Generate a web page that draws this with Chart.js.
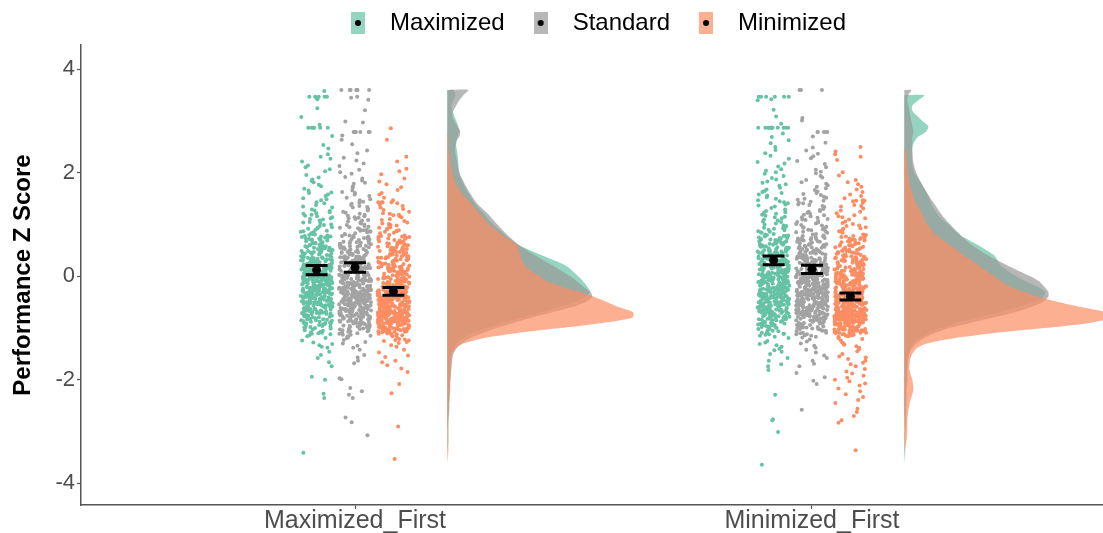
<!DOCTYPE html>
<html>
<head>
<meta charset="utf-8">
<title>Performance Z Score by order and condition</title>
<script src="https://cdn.jsdelivr.net/npm/chart.js@4.4.1/dist/chart.umd.min.js"></script>
<style>
  html, body { margin: 0; padding: 0; background: #ffffff; }
  #wrap { width: 1103px; height: 533px; position: relative; }
</style>
</head>
<body>
<div id="wrap"><canvas id="chart"></canvas></div>
<script>
// ---- categories and labels ----
const orders = ['Maximized_First', 'Minimized_First'];
const conditions = ['Maximized', 'Standard', 'Minimized'];
const yTicks = [-4, -2, 0, 2, 4];

// ---- individual z scores, Maximized_First order ----
const maxFirstMaximized = [3.58,3.47,3.47,3.47,3.47,3.47,3.44,3.42,3.25,3.08,2.93,2.87,2.87,2.87,2.87,2.87,2.87,2.71,2.54,2.47,2.36,2.22,2.31,2.27,2.14,2.03,2.11,2.07,1.96,1.84,1.91,1.87,1.82,1.77,1.69,1.74,1.62,1.66,1.61,1.55,1.58,1.47,1.51,1.43,1.49,1.41,
  1.21,1.27,1.33,1.24,1.38,1.29,1.22,1.35,1.26,1.11,1.19,1.03,1.08,1.16,1.05,1.12,1.0,1.17,1.1,1.04,1.14,
  0.93,0.85,0.97,0.81,0.9,0.86,0.99,0.83,0.92,0.88,0.95,0.8,0.87,0.94,0.82,
  0.66,0.75,0.62,0.7,0.78,0.64,0.73,0.68,0.6,0.77,0.71,0.63,0.74,0.69,0.79,0.65,0.72,0.61,0.76,
  0.43,0.51,0.56,0.4,0.48,0.54,0.45,0.59,0.5,0.42,0.53,0.47,0.57,0.44,0.52,0.49,0.41,0.55,0.46,0.58,0.51,0.43,0.54,0.48,
  0.21,0.27,0.33,0.24,0.38,0.29,0.22,0.35,0.26,0.31,0.39,0.23,0.28,0.36,0.25,0.32,0.2,0.37,0.3,0.24,0.34,0.27,0.21,0.38,0.29,0.33,0.26,0.36,0.22,0.31,0.28,
  0.03,0.11,0.16,0.0,0.08,0.14,0.05,0.19,0.1,0.02,0.13,0.07,0.17,0.04,0.12,0.09,0.01,0.15,0.06,0.18,0.11,0.03,0.14,0.08,0.0,0.16,0.1,0.05,0.19,0.12,0.02,0.07,0.17,0.13,0.04,0.09,0.15,
  -0.06,-0.15,-0.02,-0.1,-0.18,-0.04,-0.13,-0.08,-0.01,-0.17,-0.11,-0.03,-0.14,-0.09,-0.19,-0.05,-0.12,-0.01,-0.16,-0.07,-0.1,-0.03,-0.18,-0.13,-0.06,-0.02,-0.15,-0.08,-0.12,-0.04,-0.17,-0.02,-0.11,-0.19,-0.09,-0.05,-0.14,-0.01,-0.16,
  -0.21,-0.27,-0.33,-0.24,-0.38,-0.29,-0.22,-0.35,-0.26,-0.31,-0.39,-0.23,-0.28,-0.36,-0.25,-0.32,-0.2,-0.37,-0.3,-0.24,-0.34,-0.27,-0.21,-0.38,-0.29,-0.33,-0.26,-0.36,-0.22,-0.31,-0.28,-0.39,-0.25,-0.35,-0.23,-0.3,-0.37,-0.27,-0.32,-0.24,-0.34,
  -0.43,-0.51,-0.56,-0.4,-0.48,-0.54,-0.45,-0.59,-0.5,-0.42,-0.53,-0.47,-0.57,-0.44,-0.52,-0.49,-0.41,-0.55,-0.46,-0.58,-0.51,-0.43,-0.54,-0.48,-0.4,-0.56,-0.5,-0.45,-0.59,-0.52,-0.42,-0.47,-0.57,-0.53,-0.44,-0.49,-0.55,
  -0.66,-0.75,-0.62,-0.7,-0.78,-0.64,-0.73,-0.68,-0.6,-0.77,-0.71,-0.63,-0.74,-0.69,-0.79,-0.65,-0.72,-0.61,-0.76,-0.67,-0.7,-0.63,-0.78,-0.73,-0.66,-0.62,-0.75,
  -0.81,-0.87,-0.93,-0.84,-0.98,-0.89,-0.82,-0.95,-0.86,-0.91,-0.99,-0.83,-0.88,-0.96,-0.85,-0.92,-0.9,
  -1.03,-1.11,-1.16,-1.0,-1.08,-1.14,-1.05,-1.19,-1.1,
  -1.24,-1.28,-1.31,-1.33,-1.36,-1.38,-1.46,-1.52,-1.58,-1.66,-1.74,-1.94,-2.0,-2.27,-2.35,-3.41,
  0.77,0.71,0.64,0.58,0.52,0.47,0.69,0.44,0.61,0.55,0.49,0.73,
  0.37,0.31,0.24,0.18,0.12,0.06,0.35,0.28,0.21,0.15,0.09,0.03,0.39,0.33,0.26,0.19,0.13,0.07,0.01,0.29,0.23,0.16,0.1,0.04,
  -0.02,-0.08,-0.15,-0.21,-0.27,-0.34,-0.05,-0.11,-0.18,-0.24,-0.31,-0.37,-0.03,-0.09,-0.16,-0.22,-0.29,-0.35,-0.06,-0.13,-0.19,-0.26,-0.32,-0.38,-0.01,-0.12,-0.23,-0.33,-0.07,-0.17,-0.28,-0.36,
  -0.41,-0.47,-0.53,-0.6,-0.66,-0.72,-0.44,-0.5,-0.57,-0.63,-0.69,-0.76,-0.42,-0.48,-0.55,-0.61,-0.67,-0.74,-0.45,-0.52,-0.58,-0.65,-0.71,-0.79,-0.43,-0.51,-0.59,-0.68,
  -0.82,-0.88,-0.94,-1.01,-1.07,-0.85,-0.91,-0.97,-1.04,-1.12,-0.83,-0.9,-0.99,-1.09];

const maxFirstStandard = [3.6,3.6,3.6,3.6,3.6,3.6,3.6,3.6,3.47,3.45,3.41,3.21,2.99,2.97,2.79,2.79,2.79,2.79,2.79,2.79,2.79,2.72,2.64,2.55,2.43,2.38,2.29,2.24,2.18,2.13,2.06,2.01,1.98,1.92,1.89,1.85,1.81,1.79,1.74,1.71,1.66,1.63,1.61,1.58,1.55,1.52,1.49,1.47,1.44,1.42,1.4,
  1.33,1.25,1.38,1.21,1.29,1.36,1.23,1.31,1.27,1.34,
  1.14,1.06,1.19,1.02,1.11,1.17,1.08,1.0,1.13,1.04,1.16,1.09,1.12,
  0.96,0.88,0.82,0.93,0.85,0.99,0.9,0.81,0.94,0.87,0.97,0.83,0.91,0.86,0.95,0.89,
  0.74,0.67,0.61,0.78,0.7,0.63,0.76,0.65,0.72,0.6,0.79,0.68,0.73,0.62,0.77,0.66,0.71,0.64,0.75,
  0.55,0.47,0.41,0.58,0.5,0.43,0.56,0.45,0.52,0.4,0.59,0.48,0.53,0.42,0.57,0.46,0.51,0.44,0.54,0.49,0.42,0.56,0.47,
  0.36,0.28,0.22,0.33,0.25,0.39,0.3,0.21,0.34,0.27,0.37,0.23,0.31,0.26,0.35,0.29,0.2,0.38,0.24,0.32,0.27,0.36,0.22,0.3,0.34,0.25,0.38,0.28,
  0.16,0.08,0.02,0.13,0.05,0.19,0.1,0.01,0.14,0.07,0.17,0.03,0.11,0.06,0.15,0.09,0.0,0.18,0.04,0.12,0.07,0.16,0.02,0.1,0.14,0.05,0.18,0.08,0.12,0.03,0.17,0.11,0.06,0.13,
  -0.03,-0.11,-0.16,-0.01,-0.08,-0.14,-0.05,-0.19,-0.1,-0.02,-0.13,-0.07,-0.17,-0.04,-0.12,-0.09,-0.01,-0.15,-0.06,-0.18,-0.11,-0.03,-0.14,-0.08,-0.02,-0.16,-0.1,-0.05,-0.19,-0.12,-0.02,-0.07,-0.17,-0.13,-0.04,-0.09,-0.15,-0.06,
  -0.26,-0.35,-0.22,-0.3,-0.38,-0.24,-0.33,-0.28,-0.2,-0.37,-0.31,-0.23,-0.34,-0.29,-0.39,-0.25,-0.32,-0.21,-0.36,-0.27,-0.3,-0.23,-0.38,-0.33,-0.26,-0.22,-0.35,-0.28,-0.32,-0.24,-0.37,-0.22,-0.31,-0.39,-0.29,-0.25,-0.34,-0.21,-0.36,-0.27,-0.33,
  -0.41,-0.47,-0.53,-0.44,-0.58,-0.49,-0.42,-0.55,-0.46,-0.51,-0.59,-0.43,-0.48,-0.56,-0.45,-0.52,-0.4,-0.57,-0.5,-0.44,-0.54,-0.47,-0.41,-0.58,-0.49,-0.53,-0.46,-0.56,-0.42,-0.51,-0.48,-0.59,-0.45,-0.55,-0.43,-0.5,-0.57,-0.47,-0.52,-0.44,-0.54,
  -0.63,-0.71,-0.76,-0.6,-0.68,-0.74,-0.65,-0.79,-0.7,-0.62,-0.73,-0.67,-0.77,-0.64,-0.72,-0.69,-0.61,-0.75,-0.66,-0.78,-0.71,-0.63,-0.74,-0.68,-0.6,-0.76,-0.7,-0.65,-0.79,-0.72,-0.62,-0.67,-0.77,
  -0.86,-0.95,-0.82,-0.9,-0.98,-0.84,-0.93,-0.88,-0.8,-0.97,-0.91,-0.83,-0.94,-0.89,-0.99,-0.85,-0.92,-0.81,-0.96,-0.87,-0.9,-0.83,
  -1.01,-1.07,-1.13,-1.04,-1.18,-1.09,-1.02,-1.15,-1.06,-1.11,-1.19,-1.03,
  -1.23,-1.27,-1.3,-1.34,-1.38,-1.42,-1.52,-1.57,-1.63,-1.68,-1.97,-1.99,-2.16,-2.22,-2.29,-2.35,-2.73,-2.82,-3.07,
  0.78,0.72,0.65,0.59,0.53,0.46,0.41,0.68,0.62,0.56,0.5,0.43,
  0.38,0.32,0.25,0.19,0.13,0.07,0.01,0.35,0.29,0.22,0.16,0.1,0.04,0.37,0.31,0.24,0.18,0.12,0.06,0.27,0.14,0.02,
  -0.03,-0.09,-0.16,-0.22,-0.28,-0.35,-0.06,-0.12,-0.19,-0.25,-0.31,-0.38,-0.02,-0.08,-0.14,-0.21,-0.27,-0.33,-0.39,-0.05,-0.11,-0.17,-0.24,-0.3,-0.36,-0.01,-0.13,-0.26,-0.37,-0.07,-0.2,-0.32,
  -0.42,-0.48,-0.54,-0.61,-0.67,-0.73,-0.79,-0.45,-0.51,-0.57,-0.64,-0.7,-0.76,-0.43,-0.49,-0.55,-0.62,-0.68,-0.74,-0.41,-0.47,-0.53,-0.59,-0.66,-0.72,-0.78,-0.44,-0.5,-0.56,-0.63,-0.69,-0.75,
  -0.81,-0.87,-0.93,-0.99,-1.06,-1.13,-0.84,-0.9,-0.96,-1.02,-1.1,-0.82,-0.88,-0.95,-1.04,-1.16];

const maxFirstMinimized = [2.86,2.64,2.31,2.22,2.08,2.03,1.97,1.89,1.83,1.78,1.72,1.67,1.61,1.58,1.52,1.47,1.43,1.43,1.43,1.43,1.41,
  1.36,1.28,1.22,1.33,1.25,1.39,1.3,1.21,
  1.14,1.07,1.18,1.02,1.11,1.16,1.04,1.09,1.19,1.01,
  0.97,0.89,0.83,0.94,0.86,0.99,0.91,0.8,0.95,0.88,0.92,0.84,0.98,0.87,
  0.72,0.65,0.78,0.61,0.7,0.76,0.63,0.68,0.74,0.6,0.79,0.67,0.73,0.62,0.77,0.66,0.71,0.64,
  0.54,0.46,0.59,0.41,0.5,0.56,0.43,0.48,0.57,0.44,0.52,0.4,0.58,0.47,0.53,0.42,0.55,0.49,0.45,0.51,0.56,
  0.33,0.26,0.38,0.21,0.3,0.36,0.23,0.28,0.37,0.24,0.32,0.2,0.39,0.27,0.34,0.22,0.35,0.29,0.25,0.31,0.36,0.23,
  0.14,0.06,0.19,0.01,0.1,0.16,0.03,0.08,0.17,0.04,0.12,0.0,0.18,0.07,0.13,0.02,0.15,0.09,0.05,0.11,0.16,0.03,0.19,0.08,0.12,
  -0.04,-0.12,-0.17,-0.01,-0.09,-0.15,-0.06,-0.19,-0.11,-0.03,-0.14,-0.08,-0.18,-0.05,-0.13,-0.1,-0.02,-0.16,-0.07,-0.19,-0.12,-0.04,-0.15,-0.09,-0.01,-0.17,-0.11,-0.06,-0.13,-0.03,-0.08,
  -0.23,-0.31,-0.36,-0.2,-0.28,-0.34,-0.25,-0.39,-0.3,-0.22,-0.33,-0.27,-0.37,-0.24,-0.32,-0.29,-0.21,-0.35,-0.26,-0.38,-0.31,-0.23,-0.34,-0.28,-0.2,-0.36,-0.3,-0.25,-0.39,-0.32,-0.22,-0.27,-0.37,-0.33,-0.24,-0.29,-0.35,-0.21,-0.38,-0.26,
  -0.42,-0.49,-0.55,-0.46,-0.59,-0.51,-0.43,-0.57,-0.48,-0.53,-0.4,-0.45,-0.5,-0.58,-0.47,-0.54,-0.41,-0.56,-0.52,-0.44,-0.58,-0.49,-0.43,-0.55,-0.5,-0.46,-0.59,-0.53,-0.41,-0.48,-0.56,-0.45,-0.51,-0.42,-0.57,-0.47,-0.54,-0.44,-0.52,-0.5,-0.58,-0.46,-0.55,-0.43,-0.49,-0.53,-0.47,-0.56,
  -0.61,-0.68,-0.74,-0.65,-0.79,-0.7,-0.63,-0.76,-0.67,-0.72,-0.6,-0.64,-0.69,-0.77,-0.66,-0.73,-0.62,-0.75,-0.71,-0.78,-0.65,-0.7,-0.74,-0.61,-0.68,-0.76,-0.63,-0.72,-0.79,-0.67,-0.73,-0.64,-0.77,-0.69,-0.75,-0.62,-0.71,-0.78,-0.66,-0.74,-0.7,-0.76,-0.72,-0.68,-0.75,-0.73,-0.77,-0.71,-0.74,-0.69,-0.76,-0.72,-0.75,
  -0.81,-0.86,-0.92,-0.83,-0.97,-0.88,-0.8,-0.94,-0.85,-0.9,-0.82,-0.87,-0.93,-0.84,-0.89,-0.96,-0.81,-0.91,-0.85,-0.88,-0.83,-0.95,-0.8,-0.86,-0.92,-0.82,-0.87,-0.9,-0.84,-0.99,-0.81,-0.89,-0.93,-0.83,-0.86,-0.91,-0.8,-0.85,-0.94,-0.82,-0.88,-0.98,-0.84,-0.9,-0.87,
  -1.02,-1.07,-1.01,-1.12,-1.05,-1.09,-1.03,-1.16,-1.06,-1.01,-1.11,-1.04,-1.08,-1.19,-1.02,-1.13,-1.05,-1.1,-1.03,-1.15,-1.07,
  -1.21,-1.24,-1.27,-1.22,-1.29,-1.25,-1.23,
  -1.33,-1.36,-1.42,-1.47,-1.53,-1.56,-1.63,-1.66,-1.72,-1.78,-1.85,-2.08,-2.26,-2.9,-3.53,
  0.76,0.69,0.61,0.54,0.47,0.42,0.65,0.51,
  0.37,0.3,0.22,0.15,0.08,0.02,0.34,0.26,0.19,0.11,0.05,0.39,0.24,0.13,
  -0.03,-0.1,-0.17,-0.24,-0.31,-0.38,-0.06,-0.13,-0.2,-0.27,-0.34,-0.01,-0.08,-0.15,-0.22,-0.29,-0.36,-0.05,-0.12,-0.19,-0.26,-0.33,-0.39,-0.21,
  -0.41,-0.46,-0.51,-0.56,-0.61,-0.66,-0.71,-0.76,-0.43,-0.48,-0.53,-0.58,-0.63,-0.68,-0.73,-0.78,-0.44,-0.49,-0.54,-0.59,-0.64,-0.69,-0.74,-0.79,-0.42,-0.47,-0.52,-0.57,-0.62,-0.67,-0.72,-0.77,-0.65,-0.7,-0.75,-0.73,-0.68,-0.76,-0.71,-0.74,
  -0.81,-0.84,-0.87,-0.9,-0.93,-0.96,-0.99,-1.02,-1.05,-1.08,-1.11,-0.82,-0.85,-0.88,-0.91,-0.94,-0.97,-1.0,-1.03,-1.06,-0.83,-0.86,-0.89,-0.92,-0.95,-0.98,-1.01,-1.04,-0.8,-1.14];

// ---- individual z scores, Minimized_First order ----
const minFirstMaximized = [3.47,3.47,3.47,3.47,3.47,3.47,3.42,3.4,3.22,3.09,2.95,2.87,2.87,2.87,2.87,2.87,2.87,2.87,2.87,2.87,2.87,2.87,2.87,2.76,2.69,2.63,2.57,2.5,2.44,2.38,2.33,2.27,2.21,2.18,2.12,2.07,2.04,2.01,1.98,1.94,1.9,1.87,1.83,1.81,1.78,1.75,1.71,1.68,1.65,1.63,1.61,1.58,1.56,1.53,1.5,1.47,1.45,1.43,1.41,
  1.32,1.24,1.37,1.21,1.29,1.35,1.26,1.39,1.23,
  1.15,1.08,1.19,1.02,1.12,1.05,1.17,1.0,1.1,1.14,1.06,
  0.95,0.87,0.81,0.92,0.84,0.98,0.89,0.8,0.93,0.86,0.97,0.82,0.9,0.85,0.94,
  0.75,0.67,0.61,0.72,0.64,0.78,0.69,0.6,0.73,0.66,0.77,0.62,0.7,0.65,0.74,0.68,0.79,0.63,0.71,
  0.55,0.47,0.41,0.52,0.44,0.58,0.49,0.4,0.53,0.46,0.57,0.42,0.5,0.45,0.54,0.48,0.59,0.43,0.51,0.56,0.46,0.52,0.41,0.48,
  0.35,0.27,0.21,0.32,0.24,0.38,0.29,0.2,0.33,0.26,0.37,0.22,0.3,0.25,0.34,0.28,0.39,0.23,0.31,0.36,0.26,0.32,0.21,0.28,0.35,0.24,0.3,
  0.15,0.07,0.01,0.12,0.04,0.18,0.09,0.0,0.13,0.06,0.17,0.02,0.1,0.05,0.14,0.08,0.19,0.03,0.11,0.16,0.06,0.12,0.01,0.08,0.15,0.04,0.1,0.18,0.02,0.13,
  -0.05,-0.13,-0.18,-0.02,-0.1,-0.16,-0.07,-0.01,-0.12,-0.04,-0.15,-0.09,-0.19,-0.06,-0.14,-0.11,-0.03,-0.17,-0.08,-0.12,-0.05,-0.16,-0.1,-0.02,-0.18,-0.13,-0.07,-0.14,-0.04,-0.09,-0.19,-0.11,-0.06,-0.15,-0.03,-0.17,-0.08,
  -0.24,-0.32,-0.37,-0.21,-0.29,-0.35,-0.26,-0.2,-0.31,-0.23,-0.34,-0.28,-0.38,-0.25,-0.33,-0.3,-0.22,-0.36,-0.27,-0.39,-0.32,-0.24,-0.35,-0.29,-0.21,-0.37,-0.31,-0.26,-0.33,-0.23,-0.28,-0.38,-0.34,-0.25,-0.3,-0.36,-0.22,-0.39,-0.27,-0.33,-0.29,
  -0.44,-0.52,-0.57,-0.41,-0.49,-0.55,-0.46,-0.4,-0.51,-0.43,-0.54,-0.48,-0.58,-0.45,-0.53,-0.5,-0.42,-0.56,-0.47,-0.59,-0.52,-0.44,-0.55,-0.49,-0.41,-0.57,-0.51,-0.46,-0.53,-0.43,-0.48,-0.58,-0.54,-0.45,-0.5,-0.56,-0.42,-0.47,-0.53,
  -0.64,-0.72,-0.77,-0.61,-0.69,-0.75,-0.66,-0.6,-0.71,-0.63,-0.74,-0.68,-0.78,-0.65,-0.73,-0.7,-0.62,-0.76,-0.67,-0.79,-0.72,-0.64,-0.75,-0.69,-0.61,-0.77,-0.71,-0.66,-0.73,-0.63,
  -0.84,-0.92,-0.97,-0.81,-0.89,-0.95,-0.86,-0.8,-0.91,-0.83,-0.94,-0.88,-0.98,-0.85,-0.93,-0.9,-0.82,-0.96,
  -1.04,-1.12,-1.17,-1.01,-1.09,-1.15,-1.06,-1.02,-1.11,-1.19,
  -1.25,-1.28,-1.31,-1.33,-1.36,-1.4,-1.43,-1.46,-1.5,-1.58,-1.63,-1.7,-1.74,-1.81,-2.29,-2.76,-2.78,-3.01,-3.64,
  0.78,0.71,0.65,0.58,0.52,0.45,0.74,0.68,0.61,0.55,0.48,0.42,0.63,
  0.38,0.31,0.25,0.18,0.12,0.05,0.35,0.28,0.22,0.15,0.09,0.02,0.37,0.3,0.24,0.17,0.11,0.04,0.33,0.2,0.07,0.26,
  -0.02,-0.09,-0.15,-0.22,-0.28,-0.35,-0.05,-0.12,-0.18,-0.25,-0.31,-0.38,-0.03,-0.1,-0.17,-0.23,-0.3,-0.36,-0.07,-0.14,-0.2,-0.27,-0.33,-0.39,-0.01,-0.13,-0.24,-0.34,-0.08,-0.29,
  -0.41,-0.47,-0.54,-0.6,-0.67,-0.73,-0.44,-0.5,-0.57,-0.63,-0.7,-0.77,-0.42,-0.49,-0.55,-0.62,-0.68,-0.75,-0.46,-0.52,-0.59,-0.65,-0.72,-0.79,-0.43,-0.51,-0.61,-0.69,
  -0.82,-0.88,-0.95,-1.02,-1.08,-0.85,-0.91,-0.98,-1.05,-1.13,-0.83,-0.9,-1.0,-1.11];

const minFirstStandard = [3.6,3.6,3.6,3.06,3.01,2.79,2.79,2.79,2.79,2.79,2.7,2.58,2.49,2.43,2.37,2.32,2.28,2.23,2.17,2.11,2.06,2.02,1.99,1.94,1.91,1.86,1.82,1.79,1.76,1.73,1.7,1.67,1.64,1.61,1.59,1.57,1.54,1.52,1.5,1.48,1.46,1.44,1.42,1.41,
  1.34,1.26,1.39,1.21,1.3,1.36,1.23,1.28,1.38,1.25,
  1.16,1.09,1.02,1.13,1.05,1.19,1.1,1.01,1.14,1.07,1.18,1.04,1.11,
  0.96,0.89,0.82,0.93,0.85,0.99,0.9,0.81,0.94,0.87,0.98,0.84,0.91,0.86,0.95,
  0.76,0.69,0.62,0.73,0.65,0.79,0.7,0.61,0.74,0.67,0.78,0.64,0.71,0.66,0.75,0.68,0.6,0.72,
  0.56,0.49,0.42,0.53,0.45,0.59,0.5,0.41,0.54,0.47,0.58,0.44,0.51,0.46,0.55,0.48,0.4,0.52,0.57,0.43,0.5,0.47,
  0.36,0.29,0.22,0.33,0.25,0.39,0.3,0.21,0.34,0.27,0.38,0.24,0.31,0.26,0.35,0.28,0.2,0.32,0.37,0.23,0.3,0.27,0.34,0.22,0.36,0.25,0.32,
  0.16,0.09,0.02,0.13,0.05,0.19,0.1,0.01,0.14,0.07,0.18,0.04,0.11,0.06,0.15,0.08,0.0,0.12,0.17,0.03,0.1,0.07,0.14,0.02,0.16,0.05,0.12,0.19,0.08,0.03,0.15,0.11,0.06,0.13,
  -0.03,-0.1,-0.17,-0.06,-0.14,-0.01,-0.09,-0.18,-0.05,-0.12,-0.02,-0.15,-0.08,-0.19,-0.04,-0.11,-0.16,-0.07,-0.13,-0.02,-0.1,-0.17,-0.05,-0.14,-0.08,-0.01,-0.12,-0.19,-0.06,-0.15,-0.03,-0.11,-0.18,-0.07,-0.13,-0.04,-0.16,-0.09,-0.12,
  -0.23,-0.3,-0.37,-0.26,-0.34,-0.21,-0.29,-0.38,-0.25,-0.32,-0.22,-0.35,-0.28,-0.39,-0.24,-0.31,-0.36,-0.27,-0.33,-0.22,-0.3,-0.37,-0.25,-0.34,-0.28,-0.21,-0.32,-0.39,-0.26,-0.35,-0.23,-0.31,-0.38,-0.27,-0.33,-0.24,-0.36,-0.29,-0.2,-0.34,-0.27,-0.31,
  -0.43,-0.5,-0.57,-0.46,-0.54,-0.41,-0.49,-0.58,-0.45,-0.52,-0.42,-0.55,-0.48,-0.59,-0.44,-0.51,-0.56,-0.47,-0.53,-0.42,-0.5,-0.57,-0.45,-0.54,-0.48,-0.41,-0.52,-0.59,-0.46,-0.55,-0.43,-0.51,-0.58,-0.47,-0.53,-0.44,-0.56,-0.49,-0.4,-0.54,-0.47,
  -0.63,-0.7,-0.77,-0.66,-0.74,-0.61,-0.69,-0.78,-0.65,-0.72,-0.62,-0.75,-0.68,-0.79,-0.64,-0.71,-0.76,-0.67,-0.73,-0.62,-0.7,-0.77,-0.65,-0.74,-0.68,-0.61,-0.72,-0.79,-0.66,-0.75,-0.63,-0.71,-0.78,-0.67,-0.73,
  -0.83,-0.9,-0.97,-0.86,-0.94,-0.81,-0.89,-0.98,-0.85,-0.92,-0.82,-0.95,-0.88,-0.99,-0.84,-0.91,-0.96,-0.87,-0.93,-0.82,-0.9,-0.85,-0.97,
  -1.03,-1.1,-1.17,-1.06,-1.14,-1.01,-1.09,-1.18,-1.05,-1.12,-1.02,
  -1.22,-1.26,-1.3,-1.34,-1.38,-1.42,-1.47,-1.53,-1.58,-1.63,-1.69,-1.74,-1.87,-1.95,-2.02,-2.08,-2.58,
  0.77,0.7,0.63,0.57,0.5,0.44,0.74,0.67,0.6,0.53,0.46,
  0.38,0.31,0.24,0.17,0.11,0.04,0.35,0.28,0.21,0.14,0.08,0.01,0.37,0.3,0.23,0.16,0.09,0.03,0.33,0.19,0.06,0.26,
  -0.02,-0.08,-0.14,-0.21,-0.27,-0.33,-0.39,-0.05,-0.11,-0.17,-0.24,-0.3,-0.36,-0.03,-0.09,-0.16,-0.22,-0.28,-0.35,-0.06,-0.12,-0.19,-0.25,-0.31,-0.38,-0.01,-0.13,-0.26,-0.37,-0.07,-0.2,-0.32,
  -0.41,-0.47,-0.53,-0.59,-0.65,-0.71,-0.77,-0.44,-0.5,-0.56,-0.62,-0.68,-0.74,-0.42,-0.48,-0.54,-0.6,-0.66,-0.72,-0.78,-0.45,-0.51,-0.57,-0.63,-0.69,-0.75,-0.43,-0.49,-0.55,-0.61,-0.67,-0.73,
  -0.81,-0.87,-0.93,-0.99,-1.05,-1.12,-0.84,-0.9,-0.96,-1.02,-1.09,-0.82,-0.88,-0.94,-1.01,-1.15];

const minFirstMinimized = [2.5,2.41,2.36,2.31,2.25,2.01,1.95,1.86,1.82,1.78,1.73,1.68,1.63,1.58,1.55,1.51,1.47,1.46,1.46,1.45,1.42,
  1.35,1.27,1.38,1.22,1.31,1.25,1.36,
  1.14,1.06,1.18,1.01,1.1,1.16,1.03,1.12,
  0.95,0.87,0.81,0.92,0.84,0.98,0.89,0.8,0.93,0.86,0.97,
  0.75,0.67,0.61,0.72,0.64,0.78,0.69,0.6,0.73,0.66,0.77,0.62,0.7,0.65,0.74,
  0.55,0.47,0.41,0.52,0.44,0.58,0.49,0.4,0.53,0.46,0.57,0.42,0.5,0.45,0.54,0.48,0.59,0.43,0.51,0.56,
  0.35,0.27,0.21,0.32,0.24,0.38,0.29,0.2,0.33,0.26,0.37,0.22,0.3,0.25,0.34,0.28,0.39,0.23,0.31,0.36,0.26,0.32,0.21,0.28,
  0.15,0.07,0.01,0.12,0.04,0.18,0.09,0.0,0.13,0.06,0.17,0.02,0.1,0.05,0.14,0.08,0.19,0.03,0.11,0.16,0.06,0.12,0.01,0.08,0.15,0.04,0.1,0.18,
  -0.04,-0.12,-0.17,-0.01,-0.09,-0.15,-0.06,-0.19,-0.11,-0.03,-0.14,-0.08,-0.18,-0.05,-0.13,-0.1,-0.02,-0.16,-0.07,-0.19,-0.12,-0.04,-0.15,-0.09,-0.01,-0.17,-0.11,-0.06,-0.13,-0.03,-0.08,-0.16,-0.1,
  -0.23,-0.31,-0.36,-0.2,-0.28,-0.34,-0.25,-0.39,-0.3,-0.22,-0.33,-0.27,-0.37,-0.24,-0.32,-0.29,-0.21,-0.35,-0.26,-0.38,-0.31,-0.23,-0.34,-0.28,-0.2,-0.36,-0.3,-0.25,-0.39,-0.32,-0.22,-0.27,-0.37,-0.33,-0.24,-0.29,-0.35,-0.26,
  -0.42,-0.49,-0.55,-0.46,-0.59,-0.51,-0.43,-0.57,-0.48,-0.53,-0.4,-0.45,-0.5,-0.58,-0.47,-0.54,-0.41,-0.56,-0.52,-0.44,-0.58,-0.49,-0.43,-0.55,-0.5,-0.46,-0.59,-0.53,-0.41,-0.48,-0.56,-0.45,-0.51,-0.42,-0.57,-0.47,-0.54,-0.44,-0.52,-0.5,-0.58,-0.46,-0.55,-0.43,-0.49,-0.53,-0.47,-0.56,-0.51,
  -0.61,-0.68,-0.74,-0.65,-0.79,-0.7,-0.63,-0.76,-0.67,-0.72,-0.6,-0.64,-0.69,-0.77,-0.66,-0.73,-0.62,-0.75,-0.71,-0.78,-0.65,-0.7,-0.74,-0.61,-0.68,-0.76,-0.63,-0.72,-0.79,-0.67,-0.73,-0.64,-0.77,-0.69,-0.75,-0.62,-0.71,-0.78,-0.66,-0.74,-0.7,-0.76,-0.72,-0.68,-0.75,-0.73,-0.77,-0.71,-0.74,-0.69,-0.76,-0.72,-0.75,-0.78,-0.73,-0.79,-0.76,
  -0.81,-0.86,-0.92,-0.83,-0.97,-0.88,-0.8,-0.94,-0.85,-0.9,-0.82,-0.87,-0.93,-0.84,-0.89,-0.96,-0.81,-0.91,-0.85,-0.88,-0.83,-0.95,-0.8,-0.86,-0.92,-0.82,-0.87,-0.9,-0.84,-0.99,-0.81,-0.89,-0.93,-0.83,-0.86,-0.91,-0.8,-0.85,-0.94,-0.82,-0.88,-0.98,-0.84,-0.9,-0.87,-0.81,-0.83,-0.85,-0.82,-0.86,-0.84,-0.88,
  -1.02,-1.07,-1.01,-1.12,-1.05,-1.09,-1.03,-1.16,-1.06,-1.01,-1.11,-1.04,-1.08,-1.19,-1.02,-1.13,-1.05,-1.1,-1.03,-1.15,-1.07,-1.04,-1.17,-1.06,-1.09,-1.12,
  -1.21,-1.24,-1.28,-1.3,-1.32,-1.35,-1.38,-1.41,-1.45,-1.5,-1.55,-1.57,-1.6,-1.63,-1.67,-1.7,-1.74,-1.79,-1.84,-1.88,-1.92,-1.96,-2.0,-2.03,-2.07,-2.11,-2.17,-2.22,-2.28,-2.33,-2.39,-2.45,-2.56,-2.62,-2.7,-2.78,-2.83,-3.36,
  0.76,0.68,0.6,0.53,0.45,0.71,0.49,
  0.37,0.29,0.22,0.14,0.07,0.34,0.26,0.18,0.11,0.03,0.39,0.2,0.05,
  -0.02,-0.09,-0.16,-0.23,-0.3,-0.37,-0.05,-0.12,-0.19,-0.26,-0.33,-0.39,-0.03,-0.1,-0.17,-0.24,-0.31,-0.38,-0.07,-0.21,-0.28,-0.35,
  -0.41,-0.46,-0.51,-0.56,-0.61,-0.66,-0.71,-0.76,-0.43,-0.48,-0.53,-0.58,-0.63,-0.68,-0.73,-0.78,-0.44,-0.49,-0.54,-0.59,-0.64,-0.69,-0.74,-0.79,-0.42,-0.47,-0.52,-0.57,-0.62,-0.67,-0.72,-0.77,-0.65,-0.7,-0.75,-0.73,-0.68,-0.76,-0.71,-0.74,-0.72,-0.77,
  -0.81,-0.84,-0.87,-0.9,-0.93,-0.96,-0.99,-1.02,-1.05,-1.08,-1.11,-0.82,-0.85,-0.88,-0.91,-0.94,-0.97,-1.0,-1.03,-1.06,-0.83,-0.86,-0.89,-0.92,-0.95,-0.98,-1.01,-1.04,-0.8,-1.14,-0.84,-0.87,-0.81,-1.09];

// ---- condition means and standard errors (order: Maximized, Standard, Minimized) ----
const meanMaxFirst = [0.12, 0.17, -0.29];
const seMaxFirst = [0.09, 0.09, 0.075];
const meanMinFirst = [0.31, 0.135, -0.39];
const seMinFirst = [0.085, 0.08, 0.07];

// ---- kernel density estimates on a shared score grid (null = outside the data range) ----
const densityGrid = [3.6,3.5,3.4,3.3,3.2,3.1,3.0,2.9,2.8,2.7,2.6,2.5,2.4,2.2,2.0,1.8,1.6,1.4,1.2,1.0,0.8,0.6,0.4,0.2,0.0,-0.1,-0.2,-0.3,-0.4,-0.5,-0.6,-0.7,-0.8,-0.9,-1.0,-1.1,-1.2,-1.3,-1.4,-1.5,-1.6,-1.8,-2.0,-2.2,-2.4,-2.6,-2.8,-3.0,-3.2,-3.4,-3.6];
const densMaxFirstMaximized = [0.024,0.032,0.024,0.016,0.02,0.028,0.036,0.044,0.048,0.04,0.036,0.036,0.04,0.044,0.048,0.064,0.084,0.112,0.148,0.184,0.232,0.288,0.38,0.476,0.524,0.544,0.56,0.572,0.552,0.504,0.44,0.372,0.296,0.22,0.152,0.096,0.06,0.036,0.024,0.016,0.012,0.012,0.012,0.008,0.008,0.004,0.004,0.004,0.004,0,null];
const densMaxFirstStandard = [0.084,0.064,0.048,0.036,0.024,0.02,0.028,0.04,0.052,0.048,0.036,0.032,0.032,0.04,0.048,0.068,0.092,0.12,0.164,0.2,0.24,0.288,0.352,0.424,0.492,0.52,0.544,0.572,0.58,0.552,0.496,0.416,0.336,0.264,0.196,0.14,0.088,0.056,0.036,0.024,0.02,0.016,0.012,0.012,0.008,0.008,0.004,0,null,null,null];
const densMaxFirstMinimized = [null,null,null,null,null,null,null,null,0,0.004,0.004,0.004,0.008,0.012,0.02,0.032,0.06,0.096,0.132,0.168,0.22,0.28,0.292,0.312,0.368,0.4,0.46,0.528,0.588,0.64,0.688,0.744,0.74,0.62,0.448,0.272,0.14,0.064,0.032,0.02,0.016,0.012,0.012,0.008,0.008,0.004,0.004,0.004,0.004,0.004,0];
const densMinFirstMaximized = [null,0.08,0.056,0.032,0.032,0.052,0.072,0.096,0.088,0.056,0.04,0.032,0.032,0.032,0.04,0.068,0.092,0.108,0.132,0.176,0.224,0.296,0.36,0.388,0.448,0.488,0.532,0.564,0.556,0.512,0.448,0.376,0.288,0.208,0.144,0.096,0.06,0.036,0.024,0.016,0.012,0.012,0.012,0.008,0.008,0.008,0.008,0.004,0.004,0.004,0];
const densMinFirstStandard = [0.028,0.016,0.012,0.016,0.02,0.024,0.028,0.032,0.036,0.032,0.032,0.032,0.032,0.036,0.048,0.068,0.092,0.12,0.148,0.184,0.224,0.272,0.336,0.416,0.504,0.54,0.56,0.576,0.576,0.552,0.504,0.44,0.352,0.264,0.18,0.12,0.076,0.048,0.028,0.02,0.016,0.012,0.012,0.008,0.008,0.004,0,null,null,null,null];
const densMinFirstMinimized = [null,null,null,null,null,null,null,null,null,null,null,0,0.008,0.012,0.016,0.02,0.032,0.048,0.072,0.092,0.128,0.184,0.24,0.3,0.36,0.388,0.424,0.48,0.54,0.62,0.712,0.808,0.824,0.74,0.56,0.352,0.192,0.088,0.048,0.032,0.024,0.02,0.032,0.036,0.024,0.016,0.012,0.012,0.008,0,null];

// ---- styling / layout ----
const FONT = "'Liberation Sans', Arial, Helvetica, sans-serif";
const POINT_COLORS = ['#66c2a5', '#a3a3a3', '#fc8d62'];
const FILL_COLORS = ['rgba(102,194,165,0.7)', 'rgba(153,153,153,0.7)', 'rgba(252,141,98,0.7)'];
const DODGE = 0.084;          // horizontal spacing of the three clouds in a group
const JITTER = 0.035;         // half-width of the horizontal jitter
const VIOLIN_OFFSET = 0.202;  // flat side of the half-violins, right of the group centre
const VIOLIN_SCALE = 0.547;   // x-units per unit of density
const CAP = 0.024;            // half-width of the error-bar caps

// deterministic jitter (fixed seed) so every render is identical
function jitter(i, seed) {
  const s = Math.sin((i + 1) * 12.9898 + seed * 78.233) * 43758.5453;
  return (s - Math.floor(s)) * 2 - 1;
}

const scoreSets = [
  [maxFirstMaximized, maxFirstStandard, maxFirstMinimized],
  [minFirstMaximized, minFirstStandard, minFirstMinimized]
];
const densitySets = [
  [densMaxFirstMaximized, densMaxFirstStandard, densMaxFirstMinimized],
  [densMinFirstMaximized, densMinFirstStandard, densMinFirstMinimized]
];
const meanSets = [meanMaxFirst, meanMinFirst];
const seSets = [seMaxFirst, seMinFirst];

const datasets = [];

// half-violins (densities)
orders.forEach((ord, g) => {
  const base = g + 1 + VIOLIN_OFFSET;
  conditions.forEach((cond, c) => {
    const dens = densitySets[g][c];
    let first = -1, last = -1;
    dens.forEach((v, k) => { if (v !== null) { if (first < 0) first = k; last = k; } });
    const pts = [{ x: base, y: densityGrid[first] }];
    for (let k = first; k <= last; k++) pts.push({ x: base + dens[k] * VIOLIN_SCALE, y: densityGrid[k] });
    pts.push({ x: base, y: densityGrid[last] });
    datasets.push({
      type: 'line', label: cond + ' density', data: pts,
      fill: 'shape', backgroundColor: FILL_COLORS[c], borderWidth: 0,
      pointRadius: 0, tension: 0.25, order: 40 - c * 5
    });
  });
});

// jittered raw scores
orders.forEach((ord, g) => {
  conditions.forEach((cond, c) => {
    const cx = g + 1 + (c - 1) * DODGE;
    const seed = g * 3 + c + 1;
    datasets.push({
      type: 'scatter', label: cond,
      data: scoreSets[g][c].map((v, i) => ({ x: cx + jitter(i, seed) * JITTER, y: v })),
      pointRadius: 2, pointBorderWidth: 0, backgroundColor: POINT_COLORS[c], order: 20
    });
  });
});

// error bars (mean ± SE): top cap, stem, bottom cap, separated by gaps
const barData = [];
const meanData = [];
orders.forEach((ord, g) => {
  conditions.forEach((cond, c) => {
    const cx = g + 1 + (c - 1) * DODGE;
    const m = meanSets[g][c], se = seSets[g][c];
    barData.push({ x: cx - CAP, y: m + se }, { x: cx + CAP, y: m + se }, { x: cx, y: null });
    barData.push({ x: cx, y: m + se }, { x: cx, y: m - se }, { x: cx, y: null });
    barData.push({ x: cx - CAP, y: m - se }, { x: cx + CAP, y: m - se }, { x: cx, y: null });
    meanData.push({ x: cx, y: m });
  });
});
datasets.push({
  type: 'line', label: 'SE', data: barData, borderColor: '#000000', borderWidth: 3,
  borderCapStyle: 'butt', pointRadius: 0, fill: false, spanGaps: false, tension: 0, order: 2
});
datasets.push({
  type: 'scatter', label: 'Mean', data: meanData, pointRadius: 4.5, pointBorderWidth: 0,
  backgroundColor: '#000000', order: 1
});

// legend keys: tinted box with a black dot
function legendKey(c) {
  const cv = document.createElement('canvas');
  cv.width = 14; cv.height = 22;
  const ctx = cv.getContext('2d');
  ctx.fillStyle = FILL_COLORS[c];
  ctx.fillRect(0, 0, 14, 22);
  ctx.fillStyle = '#000000';
  ctx.beginPath(); ctx.arc(7, 11, 3, 0, Math.PI * 2); ctx.fill();
  return cv;
}

new Chart(document.getElementById('chart'), {
  type: 'scatter',
  data: { datasets },
  options: {
    responsive: true,
    maintainAspectRatio: false,
    animation: false,
    events: [],
    layout: { autoPadding: false, padding: { top: -5, left: 0, right: 0, bottom: 0 } },
    plugins: {
      tooltip: { enabled: false },
      legend: {
        position: 'top', align: 'center', fullSize: false,
        labels: {
          usePointStyle: true, pointStyleWidth: 40, padding: 16, color: '#000000',
          font: { size: 24, family: FONT },
          generateLabels: () => conditions.map((cond, c) => ({
            text: cond, pointStyle: legendKey(c), fillStyle: FILL_COLORS[c],
            strokeStyle: 'rgba(0,0,0,0)', lineWidth: 0, hidden: false, fontColor: '#000000'
          }))
        }
      }
    },
    scales: {
      x: {
        type: 'linear', min: 0.4004, max: 2.6368,
        afterBuildTicks: (s) => { s.ticks = orders.map((o, i) => ({ value: i + 1 })); },
        afterFit: (s) => { s.height = 28; },
        ticks: {
          callback: (v) => orders[Math.round(v) - 1] || '',
          color: '#4d4d4d', font: { size: 25, family: FONT, lineHeight: 1 },
          padding: 0, autoSkip: false, maxRotation: 0
        },
        grid: { display: true, drawOnChartArea: false, drawTicks: true, tickLength: 4, tickColor: '#555555', tickWidth: 1.2 },
        border: { display: true, color: '#555555', width: 1.5 }
      },
      y: {
        type: 'linear', min: -4.419, max: 4.47,
        afterBuildTicks: (s) => { s.ticks = yTicks.map((v) => ({ value: v })); },
        afterFit: (s) => { s.width = 81; },
        ticks: { color: '#4d4d4d', font: { size: 22, family: FONT }, padding: 2 },
        grid: { display: true, drawOnChartArea: false, drawTicks: true, tickLength: 4, tickColor: '#555555', tickWidth: 1.2 },
        border: { display: true, color: '#555555', width: 1.5 },
        title: {
          display: true, text: 'Performance Z Score', color: '#000000',
          font: { size: 24, weight: 'bold', family: FONT }, padding: { top: 9, bottom: 0 }
        }
      }
    }
  }
});
</script>
</body>
</html>
